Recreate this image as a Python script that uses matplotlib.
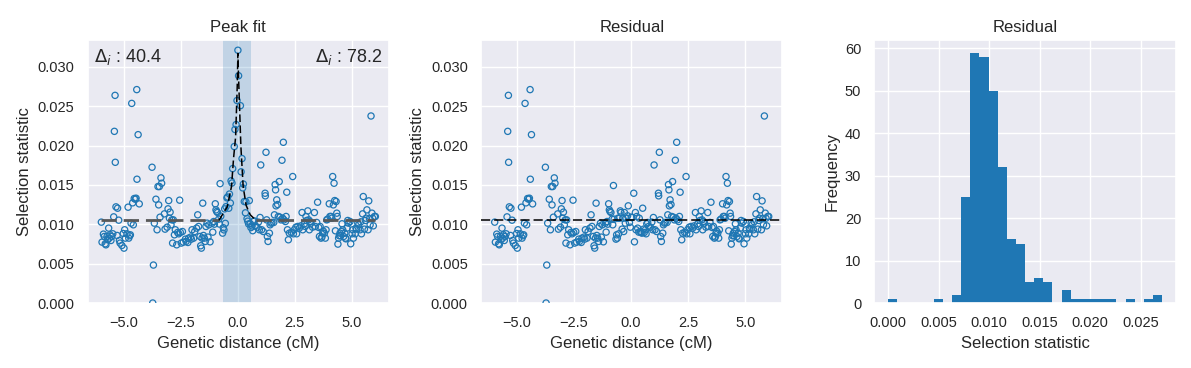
import numpy as np
import matplotlib
matplotlib.use("Agg")
import matplotlib.pyplot as plt
import seaborn as sns

# ---------------- data ----------------
# genetic distance (cM) of each window
pos_cm = [
    -5.97, -5.94, -5.88, -5.84, -5.80, -5.77, -5.72, -5.69, -5.65, -5.62,
    -5.59, -5.55, -5.52, -5.47, -5.43, -5.40, -5.37, -5.36, -5.33, -5.28,
    -5.26, -5.21, -5.18, -5.15, -5.07, -5.01, -4.98, -4.95, -4.92, -4.85,
    -4.80, -4.77, -4.73, -4.70, -4.67, -4.64, -4.60, -4.57, -4.53, -4.48,
    -4.45, -4.42, -4.41, -4.36, -4.31, -3.75, -3.72, -3.69, -3.65, -3.58,
    -3.53, -3.49, -3.46, -3.43, -3.40, -3.36, -3.33, -3.21, -3.18, -3.09,
    -3.05, -3.02, -2.99, -2.96, -2.92, -2.88, -2.85, -2.82, -2.77, -2.73,
    -2.67, -2.63, -2.58, -2.54, -2.51, -2.47, -2.42, -2.38, -2.29, -2.26,
    -2.18, -2.15, -2.06, -2.03, -2.00, -1.93, -1.88, -1.80, -1.75, -1.71,
    -1.65, -1.62, -1.59, -1.56, -1.53, -1.50, -1.46, -1.42, -1.39, -1.34,
    -1.30, -1.26, -1.21, -1.12, -1.09, -1.05, -1.02, -0.98, -0.95, -0.92,
    -0.88, -0.83, -0.80, -0.77, -0.74, -0.66, -0.63, -0.60, -0.57, -0.54,
    -0.51, -0.47, -0.44, -0.39, -0.36, -0.32, -0.29, -0.25, -0.22, -0.15,
    -0.12, -0.07, -0.03, 0.01, 0.04, 0.12, 0.15, 0.19, 0.22, 0.25,
    0.29, 0.34, 0.36, 0.41, 0.44, 0.48, 0.51, 0.55, 0.58, 0.63,
    0.66, 0.69, 0.73, 0.77, 0.85, 0.91, 0.95, 0.98, 1.01, 1.05,
    1.12, 1.20, 1.21, 1.24, 1.27, 1.30, 1.33, 1.39, 1.42, 1.46,
    1.50, 1.58, 1.61, 1.64, 1.66, 1.68, 1.71, 1.75, 1.78, 1.82,
    1.85, 1.90, 1.94, 1.97, 2.00, 2.03, 2.09, 2.12, 2.15, 2.18,
    2.22, 2.26, 2.35, 2.41, 2.44, 2.48, 2.55, 2.58, 2.63, 2.70,
    2.77, 2.82, 2.85, 2.92, 2.96, 2.99, 3.02, 3.07, 3.11, 3.14,
    3.17, 3.21, 3.28, 3.36, 3.40, 3.46, 3.50, 3.55, 3.58, 3.61,
    3.65, 3.69, 3.72, 3.75, 3.80, 3.84, 3.87, 3.90, 3.94, 4.01,
    4.04, 4.09, 4.12, 4.16, 4.19, 4.22, 4.25, 4.28, 4.31, 4.34,
    4.36, 4.39, 4.42, 4.45, 4.48, 4.51, 4.54, 4.57, 4.60, 4.64,
    4.69, 4.72, 4.74, 4.79, 4.82, 4.85, 4.92, 4.95, 5.01, 5.04,
    5.07, 5.15, 5.18, 5.21, 5.26, 5.30, 5.36, 5.39, 5.42, 5.47,
    5.50, 5.55, 5.59, 5.62, 5.66, 5.71, 5.74, 5.77, 5.80, 5.84,
    5.88, 5.91, 5.94, 5.99, 6.03,
]

# residual selection statistic (after removing the fitted peak)
residual = [
    0.01027, 0.00773, 0.00875, 0.00845, 0.00752, 0.00739, 0.00845, 0.00803, 0.00951, 0.00824,
    0.00866, 0.00794, 0.00845, 0.00879, 0.01094, 0.02180, 0.02637, 0.01787, 0.01221, 0.00858,
    0.01204, 0.01052, 0.00794, 0.00761, 0.00731, 0.00883, 0.00697, 0.00930, 0.00824, 0.00879,
    0.01217, 0.00824, 0.00854, 0.00866, 0.01014, 0.02535, 0.01272, 0.00993, 0.01327, 0.01318,
    0.01331, 0.02710, 0.01572, 0.02138, 0.01259, 0.01724, 0.00000, 0.00482, 0.01014, 0.01318,
    0.00930, 0.01479, 0.01246, 0.01479, 0.01090, 0.01589, 0.01521, 0.01132, 0.00938, 0.00963,
    0.01196, 0.01301, 0.01077, 0.01154, 0.00993, 0.01056, 0.00761, 0.01056, 0.00866, 0.00930,
    0.00739, 0.00896, 0.00879, 0.01306, 0.00896, 0.00761, 0.00908, 0.00773, 0.00811, 0.00782,
    0.00769, 0.00824, 0.00837, 0.00811, 0.00930, 0.00824, 0.00908, 0.00951, 0.01120, 0.00972,
    0.00845, 0.00727, 0.00697, 0.00824, 0.01268, 0.00858, 0.00824, 0.00782, 0.00972, 0.01014,
    0.00837, 0.00993, 0.00777, 0.01014, 0.00900, 0.01035, 0.01001, 0.01260, 0.01183, 0.01162,
    0.01149, 0.01065, 0.00993, 0.01492, 0.01065, 0.00811, 0.00866, 0.00824, 0.01077, 0.00879,
    0.01077, 0.01170, 0.01149, 0.00938, 0.01077, 0.00908, 0.01149, 0.01014, 0.01077, 0.01107,
    0.01234, 0.01023, 0.00963, 0.01090, 0.01086, 0.01394, 0.00777, 0.01149, 0.00930, 0.01099,
    0.00951, 0.00900, 0.01077, 0.00908, 0.00896, 0.00887, 0.01204, 0.00938, 0.00896, 0.00930,
    0.00879, 0.01006, 0.01023, 0.00972, 0.00963, 0.01027, 0.00930, 0.01086, 0.01753, 0.00930,
    0.00908, 0.01394, 0.01361, 0.01914, 0.01056, 0.00845, 0.00782, 0.00887, 0.00993, 0.01014,
    0.01023, 0.01023, 0.01120, 0.01504, 0.01437, 0.01234, 0.01310, 0.01251, 0.01099, 0.01542,
    0.01090, 0.01056, 0.01813, 0.01077, 0.02041, 0.01056, 0.01035, 0.01099, 0.01407, 0.00930,
    0.00803, 0.00887, 0.00896, 0.01606, 0.00879, 0.00930, 0.00963, 0.00879, 0.00972, 0.00951,
    0.00980, 0.01149, 0.00930, 0.01006, 0.00972, 0.01099, 0.01048, 0.01170, 0.01056, 0.00930,
    0.01035, 0.01014, 0.00963, 0.01149, 0.00972, 0.01023, 0.01280, 0.00959, 0.00845, 0.00972,
    0.00824, 0.00837, 0.00887, 0.00913, 0.00887, 0.00824, 0.00930, 0.01056, 0.01065, 0.01260,
    0.01099, 0.01099, 0.01077, 0.01606, 0.01246, 0.01521, 0.01301, 0.00917, 0.01289, 0.01141,
    0.01099, 0.00748, 0.00824, 0.00854, 0.00887, 0.00854, 0.00908, 0.01006, 0.00930, 0.00845,
    0.00887, 0.00824, 0.00815, 0.00951, 0.01048, 0.01014, 0.01035, 0.00752, 0.00879, 0.00930,
    0.00824, 0.00879, 0.00951, 0.00938, 0.01014, 0.00993, 0.00930, 0.01031, 0.00879, 0.01132,
    0.01352, 0.00938, 0.01048, 0.01077, 0.01183, 0.00930, 0.01297, 0.01073, 0.00993, 0.02375,
    0.01141, 0.01077, 0.00980, 0.01099, 0.01099,
]

baseline = 0.0105

# fitted peak curve
fit_x = [-0.82, -0.68, -0.46, -0.27, -0.18, -0.09, -0.02, 0.01, 0.04, 0.14, 0.24, 0.37, 0.55, 0.80]
fit_y = [0.01050, 0.01117, 0.01220, 0.01480, 0.01840, 0.02110, 0.02750, 0.03170,
         0.02850, 0.01990, 0.01480, 0.01240, 0.01120, 0.01050]

window = [-0.64, 0.60]
delta_left = 40.4
delta_right = 78.2

# ---------------- derived ----------------
x = np.array(pos_cm)
res = np.array(residual)
peak_component = np.interp(x, fit_x, fit_y, left=baseline, right=baseline) - baseline
raw = res + peak_component

# ---------------- style ----------------
sns.set_theme(style="darkgrid")
plt.rcParams["font.family"] = ["Liberation Sans", "DejaVu Sans"]
blue = "#1f77b4"

fig, axes = plt.subplots(1, 3, figsize=(11.91, 3.68), dpi=100)
fig.subplots_adjust(left=0.0736, right=0.9872, bottom=0.1766, top=0.8913, wspace=0.305)
ax1, ax2, ax3 = axes

ylim = (0, 0.0334)

# ---- Peak fit ----
ax1.axvspan(window[0], window[1], color=blue, alpha=0.2, lw=0)
ax1.scatter(x, raw, s=20, facecolors="none", edgecolors=blue, linewidths=0.9, zorder=3)
ax1.plot([x.min(), fit_x[0]], [baseline, baseline], color="0.35", lw=2,
         dashes=(5.5, 2.5), zorder=4)
ax1.plot([fit_x[-1], x.max()], [baseline, baseline], color="0.35", lw=2,
         dashes=(5.5, 2.5), zorder=4)
ax1.plot(fit_x, fit_y, color="black", lw=1.1, dashes=(5, 2.2), zorder=4)
ax1.set_ylim(*ylim)
ax1.set_title("Peak fit", fontsize=12)
ax1.set_xlabel("Genetic distance (cM)", fontsize=12)
ax1.set_ylabel("Selection statistic", fontsize=12)
ax1.text(0.02, 0.975, r"$\Delta_i$ : %.1f" % delta_left, transform=ax1.transAxes,
         ha="left", va="top", fontsize=13)
ax1.text(0.98, 0.975, r"$\Delta_i$ : %.1f" % delta_right, transform=ax1.transAxes,
         ha="right", va="top", fontsize=13)

# ---- Residual scatter ----
ax2.scatter(x, res, s=20, facecolors="none", edgecolors=blue, linewidths=0.9, zorder=3)
ax2.axhline(baseline, color="black", lw=1.1, dashes=(6, 2.6), zorder=4)
ax2.set_ylim(*ylim)
ax2.set_xlim(ax1.get_xlim())
ax2.set_title("Residual", fontsize=12)
ax2.set_xlabel("Genetic distance (cM)", fontsize=12)
ax2.set_ylabel("Selection statistic", fontsize=12)

# ---- Residual histogram ----
ax3.hist(res, bins=30, color=blue, linewidth=0)
ax3.set_title("Residual", fontsize=12)
ax3.set_xlabel("Selection statistic", fontsize=12)
ax3.set_ylabel("Frequency", fontsize=12)

for ax in axes:
    ax.tick_params(labelsize=10.5)

fig.savefig("out.png", dpi=100)
